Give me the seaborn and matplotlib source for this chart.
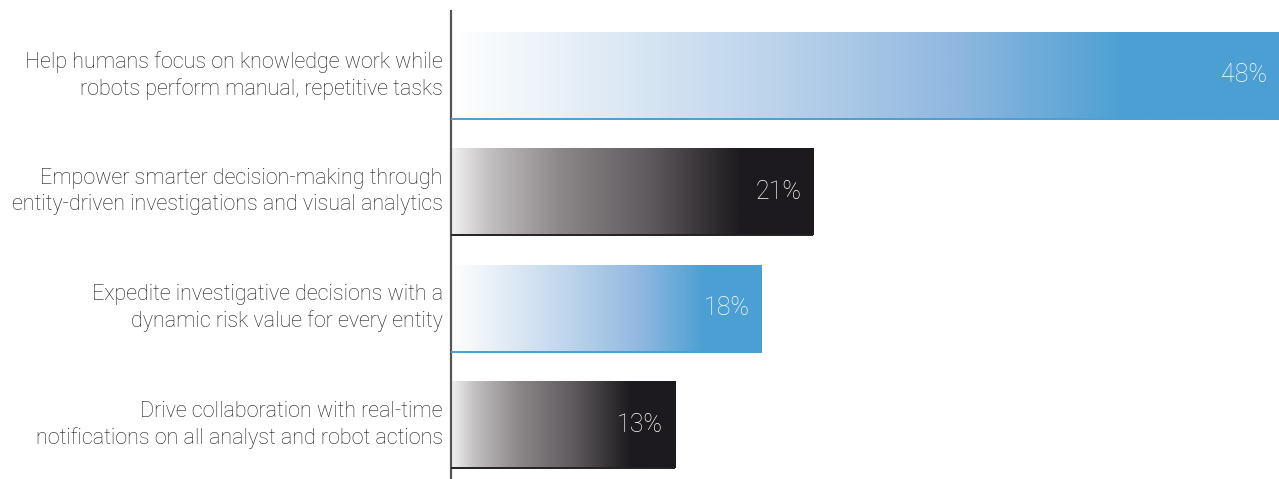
import numpy as np
import pandas as pd
import seaborn as sns
import matplotlib.pyplot as plt
from matplotlib.colors import LinearSegmentedColormap

categories = [
    "Help humans focus on knowledge work while\nrobots perform manual, repetitive tasks",
    "Empower smarter decision-making through\nentity-driven investigations and visual analytics",
    "Expedite investigative decisions with a\ndynamic risk value for every entity",
    "Drive collaboration with real-time\nnotifications on all analyst and robot actions",
]
values = [48, 21, 18, 13]
value_labels = ["48%", "21%", "18%", "13%"]
styles = ["blue", "black", "blue", "black"]

sns.set_theme(style="white")
plt.rcParams['font.family'] = ['Roboto', 'DejaVu Sans']

df = pd.DataFrame({"cat": categories, "val": values})

fig = plt.figure(figsize=(12.79, 4.79), dpi=100)
ax = fig.add_axes([451 / 1279, 0, 1 - 451 / 1279, 1 - 11 / 479])

sns.barplot(data=df, y="cat", x="val", orient="h", ax=ax, width=0.745,
            color="white", linewidth=0, saturation=1)

blue_cmap = LinearSegmentedColormap.from_list("bl", [
    (0.0, "#ffffff"), (0.35, "#c3d8ed"), (0.6, "#93b9e0"), (0.82, "#4b9fd3"), (1.0, "#4b9fd3")])
black_cmap = LinearSegmentedColormap.from_list("bk", [
    (0.0, "#f2f1f2"), (0.1, "#c4c1c3"), (0.3, "#8c8789"), (0.55, "#5e595c"), (0.8, "#1c1a1e"), (1.0, "#1c1a1e")])
edge_colors = {"blue": "#4a9fd4", "black": "#222222"}

grad = np.linspace(0, 1, 512).reshape(1, -1)
for patch, style, lab in zip(ax.patches, styles, value_labels):
    x0, y0 = patch.get_x(), patch.get_y()
    w, h = patch.get_width(), patch.get_height()
    cmap = blue_cmap if style == "blue" else black_cmap
    im = ax.imshow(grad, cmap=cmap, aspect="auto", extent=(x0, x0 + w, y0 + h, y0),
                   interpolation="bilinear", zorder=2)
    im.set_clip_path(patch)
    ax.plot([0, x0 + w], [y0 + h, y0 + h], color=edge_colors[style], lw=1.4,
            zorder=3, solid_capstyle="butt")
    ax.text(x0 + w - 0.7, y0 + h / 2, lab, ha="right", va="center",
            color="white", fontsize=18, fontweight="light", zorder=4)

ax.set_xlim(0, values[0])
ax.set_ylim(3.467, -0.553)
ax.set_xlabel("")
ax.set_ylabel("")
ax.set_xticks([])
ax.tick_params(axis="y", length=0, pad=6)
for t in ax.get_yticklabels():
    t.set_fontsize(15.5)
    t.set_color("#1e1e1e")
    t.set_fontweight("light")
    t.set_horizontalalignment("right")
    t.set_verticalalignment("center")
    t.set_multialignment("right")
    t.set_linespacing(1.3)

for s in ["top", "right", "bottom"]:
    ax.spines[s].set_visible(False)
ax.spines["left"].set_color("#555555")
ax.spines["left"].set_linewidth(1.6)

fig.savefig("out.png", dpi=100)
